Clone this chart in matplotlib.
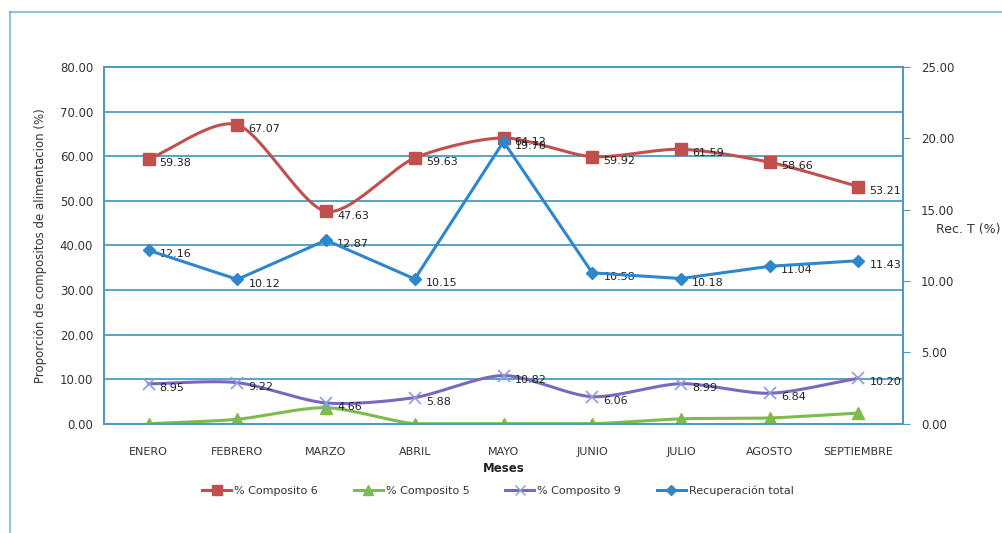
import numpy as np
import matplotlib.pyplot as plt
from matplotlib.lines import Line2D

meses = ["ENERO", "FEBRERO", "MARZO", "ABRIL", "MAYO", "JUNIO", "JULIO", "AGOSTO", "SEPTIEMBRE"]
comp6 = [59.38, 67.07, 47.63, 59.63, 64.12, 59.92, 61.59, 58.66, 53.21]
comp5 = [0.0, 1.0, 3.6, 0.0, 0.0, 0.0, 1.1, 1.3, 2.4]
comp9 = [8.95, 9.22, 4.66, 5.88, 10.82, 6.06, 8.99, 6.84, 10.20]
rec_total = [12.16, 10.12, 12.87, 10.15, 19.78, 10.58, 10.18, 11.04, 11.43]

RED = "#c0504d"
GREEN = "#7dbb4a"
PURPLE = "#7a68c0"
BLUE = "#2e86cc"
GRID = "#4a9cc0"
TXT = "#333333"


def smooth(x, y, n=30, k=0.8):
    # cardinal spline through the points, like excel's smoothed lines
    x = np.asarray(x, float)
    y = np.asarray(y, float)
    px = np.concatenate([[2 * x[0] - x[1]], x, [2 * x[-1] - x[-2]]])
    py = np.concatenate([[2 * y[0] - y[1]], y, [2 * y[-1] - y[-2]]])
    xs, ys = [], []
    t = np.linspace(0, 1, n)
    h00 = 2 * t ** 3 - 3 * t ** 2 + 1
    h10 = t ** 3 - 2 * t ** 2 + t
    h01 = -2 * t ** 3 + 3 * t ** 2
    h11 = t ** 3 - t ** 2
    for i in range(1, len(px) - 2):
        for p, out in ((px, xs), (py, ys)):
            m1 = k * (p[i + 1] - p[i - 1]) / 2
            m2 = k * (p[i + 2] - p[i]) / 2
            out.extend(h00 * p[i] + h10 * m1 + h01 * p[i + 1] + h11 * m2)
    return xs, ys


fig = plt.figure(figsize=(10.02, 5.33), dpi=100)
fig.add_artist(Line2D([0.01, 1.0], [0.977, 0.977], color=GRID, lw=1.2, alpha=0.7))
fig.add_artist(Line2D([0.01, 0.01], [0.0, 0.977], color=GRID, lw=1.2, alpha=0.7))

ax = fig.add_axes([0.104, 0.205, 0.797, 0.669])
ax2 = ax.twinx()

x = np.arange(len(meses))

for y in range(10, 80, 10):
    ax.axhline(y, color=GRID, lw=1.3, zorder=0)

xs, ys = smooth(x, comp6)
ax.plot(xs, ys, color=RED, lw=2.2, zorder=3)
ax.plot(x, comp6, ls="none", marker="s", ms=8, color=RED, zorder=4)

xs, ys = smooth(x, comp5)
ys = np.clip(ys, 0, None)
ax.plot(xs, ys, color=GREEN, lw=2.2, zorder=3)
ax.plot(x, comp5, ls="none", marker="^", ms=8, color=GREEN, zorder=4)

xs, ys = smooth(x, comp9)
ax.plot(xs, ys, color=PURPLE, lw=2.2, zorder=3)
ax.plot(x, comp9, ls="none", marker="x", ms=8, mew=1.2, color="#8a9ce0", zorder=4)

ax2.plot(x, rec_total, color=BLUE, lw=2.2, marker="D", ms=6, zorder=5)

lab = dict(fontsize=8, color="#222222", va="center", ha="left")
for i in x:
    ax.annotate(f"{comp6[i]:.2f}", (i, comp6[i]), xytext=(8, -3), textcoords="offset points", **lab)
    ax.annotate(f"{comp9[i]:.2f}", (i, comp9[i]), xytext=(8, -3), textcoords="offset points", **lab)
    ax2.annotate(f"{rec_total[i]:.2f}", (i, rec_total[i]), xytext=(8, -3), textcoords="offset points", **lab)

ax.set_xlim(-0.5, len(meses) - 0.5)
ax.set_ylim(0, 80)
ax.set_yticks(range(0, 81, 10))
ax.set_yticklabels([f"{v:.2f}" for v in range(0, 81, 10)])
ax2.set_ylim(0, 25)
ax2.set_yticks(range(0, 26, 5))
ax2.set_yticklabels([f"{v:.2f}" for v in range(0, 26, 5)])
ax.set_xticks(x)
ax.set_xticklabels(meses)

for a in (ax, ax2):
    for s in a.spines.values():
        s.set_color(GRID)
        s.set_linewidth(1.3)
ax.tick_params(axis="x", length=0, pad=17, labelsize=8, colors=TXT)
ax.tick_params(axis="y", length=0, pad=8, labelsize=8.5, colors=TXT)
ax2.tick_params(axis="y", length=5, direction="out", color=GRID, pad=8, labelsize=8.5, labelcolor=TXT)

ax.set_ylabel("Proporción de compositos de alimentacion (%)", fontsize=8.5, color=TXT, labelpad=9)
ax.set_xlabel("Meses", fontsize=8.5, color="#222222", fontweight="bold", labelpad=3)
fig.text(0.934, 0.57, "Rec. T (%)", fontsize=9, color=TXT, ha="left", va="center")

handles = [
    Line2D([], [], color=RED, lw=2.2, marker="s", ms=7),
    Line2D([], [], color=GREEN, lw=2.2, marker="^", ms=7),
    Line2D([], [], color=PURPLE, lw=2.2, marker="x", ms=7, mec="#8a9ce0"),
    Line2D([], [], color=BLUE, lw=2.2, marker="D", ms=5),
]
labels = ["% Composito 6", "% Composito 5", "% Composito 9", "Recuperación total"]
fig.legend(handles, labels, loc="center", bbox_to_anchor=(0.497, 0.08), ncol=4,
           frameon=False, fontsize=8, handlelength=2.6, columnspacing=3.2, handletextpad=0.3,
           labelcolor=TXT)

fig.savefig("out.png", dpi=100)
